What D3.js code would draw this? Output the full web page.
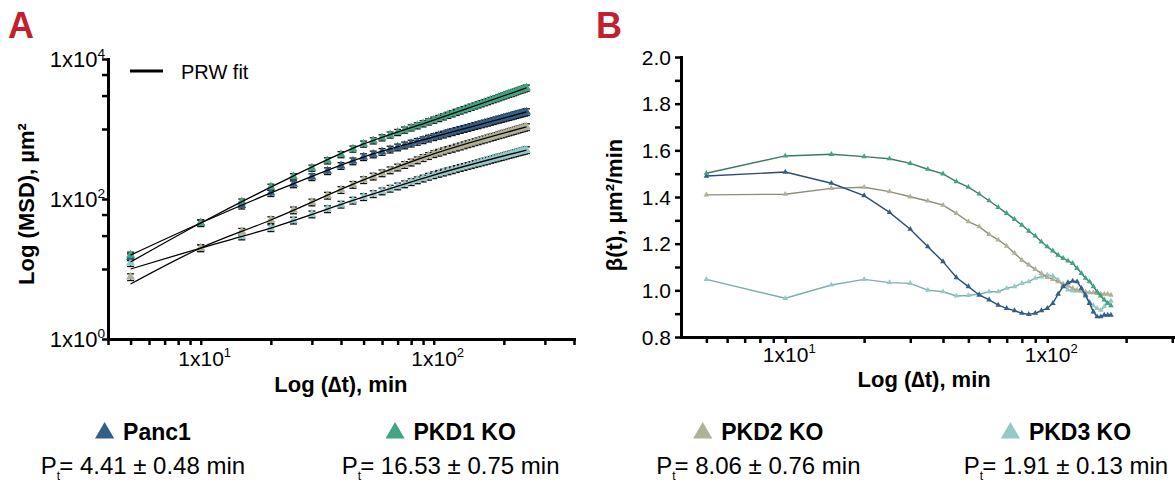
<!DOCTYPE html>
<html>
<head>
<meta charset="utf-8">
<script src="https://cdn.jsdelivr.net/npm/d3@7"></script>
<style>
  body { margin: 0; background: #fff; }
  svg { display: block; font-family: "Liberation Sans", Arial, sans-serif; }
</style>
</head>
<body>
<svg id="chart" width="1175" height="484"></svg>
<script>
// ---- data ----
const seriesNames = ["Panc1", "PKD1 KO", "PKD2 KO", "PKD3 KO"];
const persistence = ["4.41 ± 0.48", "16.53 ± 0.75", "8.06 ± 0.76", "1.91 ± 0.13"];

// panel A: MSD (µm²) vs time lag (min)
const msdTimes = [5, 10, 15, 20, 25, 30, 35, 40, 45, 50, 55, 60, 65, 70, 75, 80, 85, 90, 95, 100,
  105, 110, 115, 120, 125, 130, 135, 140, 145, 150, 155, 160, 165, 170, 175, 180, 185, 190, 195, 200,
  205, 210, 215, 220, 225, 230, 235, 240, 245, 250];
const msdPanc1 = [14.8, 45.4, 80.9, 122, 163, 206, 251, 298, 347, 398,
  435, 473, 511, 548, 585, 622, 659, 695, 733, 769,
  804, 837, 873, 906, 940, 973, 1007, 1040, 1074, 1107,
  1138, 1172, 1205, 1236, 1271, 1303, 1337, 1368, 1400, 1432,
  1466, 1496, 1528, 1560, 1592, 1626, 1656, 1687, 1718, 1750];
const msdPkd1 = [15.8, 45.4, 90.8, 148, 209, 277, 352, 432, 519, 611,
  680, 751, 824, 895, 968, 1042, 1115, 1191, 1268, 1343,
  1420, 1497, 1578, 1655, 1738, 1816, 1897, 1977, 2059, 2138,
  2222, 2307, 2388, 2472, 2559, 2642, 2723, 2812, 2897, 2979,
  3069, 3155, 3236, 3319, 3412, 3508, 3589, 3673, 3767, 3855];
const msdPkd2 = [7.69, 19.95, 34.2, 50.1, 69.1, 89.6, 112, 135, 160, 187,
  210, 234, 258, 283, 308, 333, 359, 386, 413, 440,
  461, 482, 504, 524, 546, 566, 588, 610, 630, 652,
  671, 693, 713, 735, 757, 776, 798, 820, 840, 861,
  883, 902, 923, 944, 964, 986, 1007, 1028, 1047, 1069];
const msdPkd3 = [12.2, 19.95, 29.3, 38.5, 49.4, 60.5, 71.8, 83.4, 95.1, 107,
  118, 129, 141, 152, 163, 175, 186, 197, 209, 220,
  230, 240, 250, 259, 269, 279, 288, 298, 307, 317,
  326, 336, 345, 354, 364, 373, 383, 392, 401, 410,
  420, 429, 438, 447, 456, 466, 474, 483, 492, 501];
const msdRelSem = [0.11, 0.1, 0.11, 0.11];

// PRW fit curves
const fitTimes = [5, 10, 20, 50, 100, 250];
const fitPanc1 = [15.8, 45.4, 122, 398, 769, 1750];
const fitPkd1 = [12.6, 45.4, 148, 611, 1343, 3855];
const fitPkd2 = [6.1, 19.95, 50.1, 187, 440, 1069];
const fitPkd3 = [10, 19.95, 38.5, 107, 220, 501];

// panel B: beta(t)
const betaTimes = [5, 10, 15, 20, 25, 30, 35, 40, 45, 50, 55, 60, 65, 70, 75, 80, 85, 90, 95, 100,
  105, 110, 115, 120, 125, 130, 135, 140, 145, 150, 155, 160, 165, 170, 175];
const betaPanc1 = [1.490, 1.507, 1.459, 1.406, 1.334, 1.262, 1.187, 1.123, 1.055, 1.016,
  0.980, 0.959, 0.937, 0.923, 0.913, 0.902, 0.897, 0.902, 0.913, 0.923,
  0.944, 0.984, 1.016, 1.033, 1.040, 1.037, 1.009, 0.980, 0.944, 0.908,
  0.887, 0.887, 0.894, 0.894, 0.894];
const betaPkd1 = [1.502, 1.576, 1.583, 1.573, 1.564, 1.544, 1.519, 1.499, 1.466, 1.442,
  1.413, 1.384, 1.356, 1.330, 1.304, 1.280, 1.254, 1.233, 1.208, 1.187,
  1.169, 1.151, 1.137, 1.126, 1.116, 1.094, 1.073, 1.052, 1.037, 1.016,
  0.994, 0.976, 0.959, 0.945, 0.935];
const betaPkd2 = [1.409, 1.412, 1.437, 1.442, 1.423, 1.401, 1.383, 1.365, 1.330, 1.294,
  1.273, 1.240, 1.216, 1.190, 1.159, 1.130, 1.109, 1.090, 1.073, 1.056,
  1.047, 1.037, 1.027, 1.019, 1.009, 1.001, 0.998, 0.994, 0.990, 0.990,
  0.987, 0.984, 0.984, 0.984, 0.980];
const betaPkd3 = [1.047, 0.966, 1.023, 1.047, 1.033, 1.030, 1.001, 0.994, 0.976, 0.978,
  0.984, 0.994, 0.994, 1.009, 1.016, 1.030, 1.037, 1.052, 1.058, 1.066,
  1.062, 1.044, 1.023, 1.002, 0.998, 0.998, 0.998, 0.973, 0.951, 0.935,
  0.923, 0.915, 0.930, 0.945, 0.955];

// ticks
const xTicksLog = [4, 5, 6, 7, 8, 9, 10, 20, 30, 40, 50, 60, 70, 80, 90, 100, 200, 300, 400];
const xMajorLog = [10, 100];
const yTicksA = [1, 10, 30, 60, 100, 1000, 3000, 6000, 10000];
const yMajorA = [1, 100, 10000];
const yTicksB = [0.8, 0.9, 1.0, 1.1, 1.2, 1.3, 1.4, 1.5, 1.6, 1.7, 1.8, 1.9, 2.0];
const yMajorB = [0.8, 1.0, 1.2, 1.4, 1.6, 1.8, 2.0];

// ---- styles ----
const markerColors = ["#345f86", "#40a580", "#b1b199", "#96c8c8"];
const lineColors = ["#2b4d74", "#3b7b61", "#8e8e78", "#79afaf"];
const red = "#c3202f";

const msdData = [msdPanc1, msdPkd1, msdPkd2, msdPkd3];
const fitData = [fitPanc1, fitPkd1, fitPkd2, fitPkd3];
const betaData = [betaPanc1, betaPkd1, betaPkd2, betaPkd3];

const svg = d3.select("#chart");

function styleAxis(g) {
  g.select(".domain").attr("stroke", "#000").attr("stroke-width", 3).attr("stroke-linecap", "square");
  g.selectAll(".tick line").attr("stroke", "#000").attr("stroke-width", 2.5);
}

function powLabel(g, x, y, anchor, exp, size) {
  const t = g.append("text").attr("x", x).attr("y", y).attr("text-anchor", anchor)
    .attr("font-size", size).attr("fill", "#000");
  t.append("tspan").text("1x10");
  t.append("tspan").attr("dy", -9).attr("font-size", size * 0.62).text(exp);
}

// ---- panel A ----
const xA = d3.scaleLog().domain([4, 400]).range([108, 574]);
const yA = d3.scaleLog().domain([1, 10000]).range([339, 59]);
const gA = svg.append("g");

gA.append("g").attr("transform", "translate(108,0)")
  .call(d3.axisLeft(yA).tickValues(yTicksA).tickSize(6).tickSizeOuter(0).tickFormat(""))
  .call(styleAxis);
gA.append("g").attr("transform", "translate(0,339)")
  .call(d3.axisBottom(xA).tickValues(xTicksLog).tickSize(6).tickSizeOuter(0).tickFormat(""))
  .call(styleAxis);

yMajorA.forEach(v => powLabel(gA, 105, yA(v) + 8, "end", Math.round(Math.log10(v)), 22));
xMajorLog.forEach(v => powLabel(gA, xA(v) + 4, 366, "middle", Math.round(Math.log10(v)), 21));

gA.append("text").attr("x", xA(20) + 70).attr("y", 392).attr("text-anchor", "middle")
  .attr("font-size", 22).attr("font-weight", "bold").text("Log (\u2206t), min");
gA.append("text").attr("transform", "translate(34,204) rotate(-90)").attr("text-anchor", "middle")
  .attr("font-size", 22).attr("font-weight", "bold").text("Log (MSD), µm²");

const drawOrderA = [3, 2, 0, 1];
// error bars
drawOrderA.forEach(i => {
  const f = msdRelSem[i];
  const eg = gA.append("g").attr("stroke", "#111").attr("stroke-width", 1.3);
  msdData[i].forEach((v, k) => {
    const x = xA(msdTimes[k]);
    const y1 = yA(v * (1 - f)), y2 = yA(v * (1 + f));
    eg.append("line").attr("x1", x).attr("x2", x).attr("y1", y1).attr("y2", y2);
    eg.append("line").attr("x1", x - 3.5).attr("x2", x + 3.5).attr("y1", y1).attr("y2", y1);
    eg.append("line").attr("x1", x - 3.5).attr("x2", x + 3.5).attr("y1", y2).attr("y2", y2);
  });
});
// markers
const triA = d3.symbol(d3.symbolTriangle, 36);
drawOrderA.forEach(i => {
  gA.append("g").selectAll("path").data(msdData[i]).join("path")
    .attr("d", triA)
    .attr("transform", (d, k) => `translate(${xA(msdTimes[k])},${yA(d)})`)
    .attr("fill", markerColors[i]);
});
// fit lines
const fitLine = d3.line().x((d, k) => xA(fitTimes[k])).y(d => yA(d)).curve(d3.curveMonotoneX);
fitData.forEach(arr => {
  gA.append("path").datum(arr).attr("d", fitLine).attr("fill", "none")
    .attr("stroke", "#000").attr("stroke-width", 1.3);
});

// legend A
gA.append("line").attr("x1", 130).attr("x2", 163).attr("y1", 71).attr("y2", 71)
  .attr("stroke", "#000").attr("stroke-width", 3);
gA.append("text").attr("x", 181).attr("y", 79).attr("font-size", 20).text("PRW fit");

gA.append("text").attr("x", 8).attr("y", 38).attr("font-size", 36).attr("font-weight", "bold")
  .attr("fill", red).text("A");

// ---- panel B ----
const xB = d3.scaleLog().domain([4, 400]).range([681, 1205]);
const yB = d3.scaleLinear().domain([0.8, 2.0]).range([337, 57]);
const gB = svg.append("g");

gB.append("g").attr("transform", "translate(681,0)")
  .call(d3.axisLeft(yB).tickValues(yTicksB).tickSize(6).tickSizeOuter(0).tickFormat(""))
  .call(styleAxis);
gB.append("g").attr("transform", "translate(0,337)")
  .call(d3.axisBottom(xB).tickValues(xTicksLog.filter(v => v > 4)).tickSize(6).tickSizeOuter(0).tickFormat(""))
  .call(styleAxis);

yMajorB.forEach(v => {
  gB.append("text").attr("x", 671).attr("y", yB(v) + 7.5).attr("text-anchor", "end")
    .attr("font-size", 21).text(v.toFixed(1));
});
xMajorLog.forEach(v => powLabel(gB, xB(v) + 4, 362, "middle", Math.round(Math.log10(v)), 21));

gB.append("text").attr("x", xB(20) + 60).attr("y", 387).attr("text-anchor", "middle")
  .attr("font-size", 22).attr("font-weight", "bold").text("Log (\u2206t), min");
gB.append("text").attr("transform", "translate(622,205) rotate(-90)").attr("text-anchor", "middle")
  .attr("font-size", 22).attr("font-weight", "bold").text("β(t), µm²/min");

const lineB = d3.line().x((d, k) => xB(betaTimes[k])).y(d => yB(d));
const triB = d3.symbol(d3.symbolTriangle, 14);
[3, 2, 0, 1].forEach(i => {
  gB.append("path").datum(betaData[i]).attr("d", lineB).attr("fill", "none")
    .attr("stroke", lineColors[i]).attr("stroke-width", 1.4);
  gB.append("g").selectAll("path").data(betaData[i]).join("path")
    .attr("d", triB)
    .attr("transform", (d, k) => `translate(${xB(betaTimes[k])},${yB(d)})`)
    .attr("fill", markerColors[i]);
});

gB.append("text").attr("x", 596).attr("y", 38).attr("font-size", 36).attr("font-weight", "bold")
  .attr("fill", red).text("B");

// ---- bottom legend ----
const col = d3.scalePoint().domain(seriesNames).range([143, 1066]);
const triL = d3.symbol(d3.symbolTriangle, 160);
seriesNames.forEach((name, i) => {
  const cx = col(name);
  const g = svg.append("g");
  const label = g.append("text").attr("y", 440).attr("font-size", 23).attr("font-weight", "bold").text(name);
  const w = label.node().getComputedTextLength();
  const total = 19 + 9 + w;
  const x0 = cx - total / 2;
  g.append("path").attr("d", triL).attr("transform", `translate(${x0 + 9.5},${433})`)
    .attr("fill", markerColors[i]);
  label.attr("x", x0 + 28);

  const t = g.append("text").attr("x", cx).attr("y", 474).attr("text-anchor", "middle").attr("font-size", 24);
  t.append("tspan").text("P");
  t.append("tspan").attr("dy", 6).attr("font-size", 12).text("t");
  t.append("tspan").attr("dy", -6).attr("dx", -1).text(`= ${persistence[i]} min`);
});
</script>
</body>
</html>
